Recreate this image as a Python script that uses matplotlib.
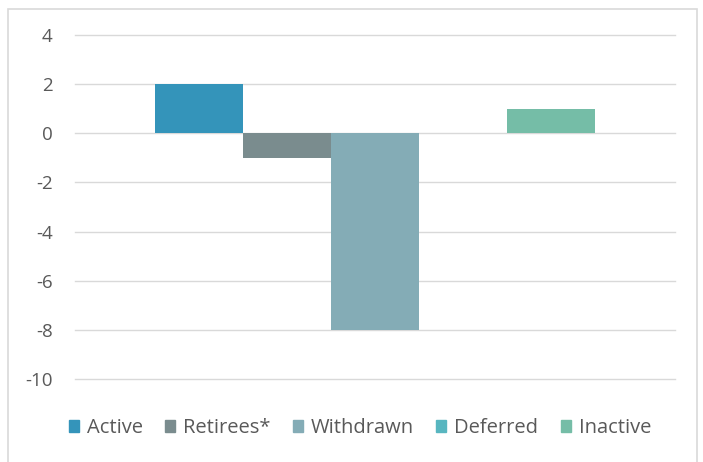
import matplotlib
matplotlib.use("Agg")
import matplotlib.pyplot as plt
from matplotlib.patches import Rectangle, Patch

series = ["Active", "Retirees*", "Withdrawn", "Deferred", "Inactive"]
values = [2, -1, -8, 0, 1]
colors = ["#3494BA", "#7A8C8E", "#84ACB6", "#58B6C0", "#75BDA7"]
yticks = [4, 2, 0, -2, -4, -6, -8, -10]

plt.rcParams['font.family'] = ['Open Sans', 'DejaVu Sans']

fig = plt.figure(figsize=(7.03, 4.62), dpi=100)
fig.patches.append(Rectangle((8/703, -0.1), (697-8)/703, 1.1 - 9/462,
                             transform=fig.transFigure, fill=False,
                             edgecolor="#D9D9D9", lw=1.2))
ax = fig.add_axes([75/703, 1-379/462, 600/703, (379-35)/462])

w = 440/600/5
for i, (s, v, c) in enumerate(zip(series, values, colors)):
    ax.bar((i-2)*w, v, width=w, color=c, label=s, zorder=3)

ax.set_xlim(-0.5, 0.5)
ax.set_ylim(-10, 4)
ax.set_yticks(yticks)
ax.set_yticklabels([str(t) for t in yticks])
ax.set_xticks([])
ax.grid(axis='y', color="#D9D9D9", lw=1, zorder=0)
for gl in ax.get_ygridlines():
    gl.set_clip_on(False)
for sp in ax.spines.values():
    sp.set_visible(False)
ax.tick_params(axis='y', length=0, pad=16, labelsize=13.5, labelcolor="#595959")

handles = [Patch(color=c, label=s) for s, c in zip(series, colors)]
fig.legend(handles=handles, loc='center', bbox_to_anchor=(360/703, 1-428/462), ncol=5,
           frameon=False, fontsize=14.5, handlelength=0.5, handleheight=0.5,
           handletextpad=0.4, columnspacing=1.1, labelcolor="#595959")

fig.savefig("out.png", dpi=100)
